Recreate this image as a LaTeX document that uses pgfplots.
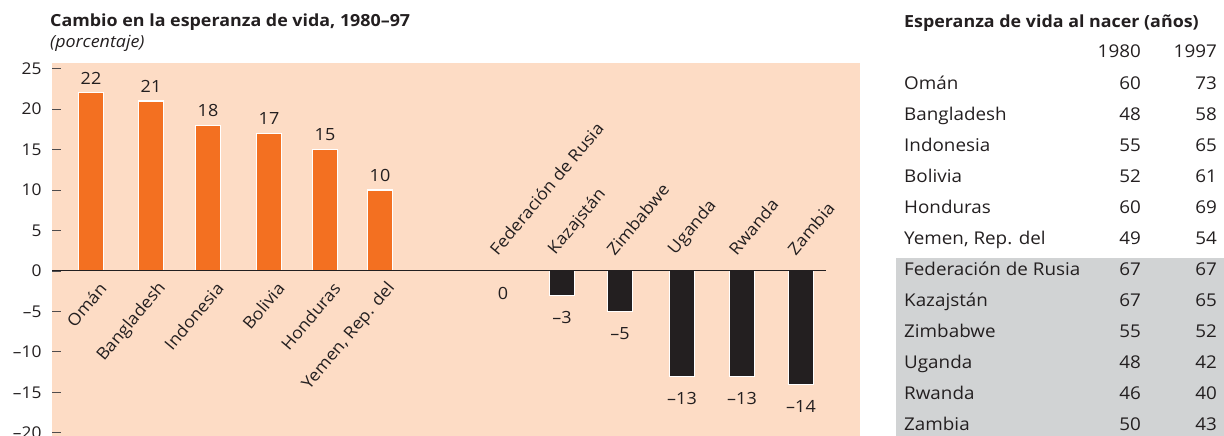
\documentclass[border=0pt]{standalone}
\usepackage{pgfplots}
\usepackage{pgfplotstable}
\pgfplotsset{compat=1.18}
\usepackage{fontspec}
\setmainfont{Open Sans}[FakeStretch=1.07]

\definecolor{panel}{HTML}{FDDCC5}
\definecolor{gainbar}{HTML}{F37021}
\definecolor{ink}{HTML}{231F20}
\definecolor{tabgray}{HTML}{D1D3D4}

% Change in life expectancy 1980-97 (percent), bar position and label
\pgfplotstableread{
x   y   lab
91  22  22
151 21  21
208 18  18
269 17  17
325 15  15
380 10  10
}\gains
\pgfplotstableread{
x   y    lab
503 0    0
562 -3   –3
620 -5   –5
682 -13  –13
742 -13  –13
801 -14  –14
}\losses

\begin{document}
\begin{tikzpicture}
\useasboundingbox (0,0) rectangle (1224pt,436pt);

\begin{axis}[
  at={(52pt,0pt)}, anchor=south west,
  scale only axis, width=808pt, height=373pt,
  xmin=52, xmax=860, ymin=-20.4, ymax=25.7,
  clip=false,
  axis background/.style={fill=panel},
  axis line style={draw=none},
  ybar, bar width=25pt,
  % y axis
  ytick={-20,-15,-10,-5,0,5,10,15,20,25},
  yticklabels={–20,–15,–10,–5,0,5,10,15,20,25},
  ytick pos=left, tick align=inside,
  major tick length=9pt,
  ytick style={draw=ink!80, line width=0.7pt},
  y tick label style={font=\fontsize{16.2}{18}\selectfont, text=ink, xshift=-7pt},
  % x axis: countries that gained
  xtick={91,151,208,269,325,380},
  xticklabels={Omán,Bangladesh,Indonesia,Bolivia,Honduras,{Yemen, Rep. del}},
  xtick style={draw=none},
  x tick label style={font=\fontsize{16.6}{18}\selectfont, text=ink, inner sep=0pt,
    xshift=12pt, yshift=151pt, rotate=50, anchor=east},
  % x axis: countries that lost
  extra x ticks={503,562,620,682,742,801},
  extra x tick labels={Federación de Rusia,Kazajstán,Zimbabwe,Uganda,Rwanda,Zambia},
  extra x tick style={
    xtick style={draw=none},
    every x tick label/.style={font=\fontsize{16.6}{18}\selectfont, text=ink, inner sep=0pt,
      xshift=-10pt, yshift=183.6pt, rotate=50, anchor=west}},
  point meta=explicit symbolic,
]
\addplot[bar shift=0pt, fill=gainbar, draw=white, line width=1.1pt,
  nodes near coords,
  every node near coord/.append style={font=\fontsize{16.8}{18}\selectfont, text=ink,
    inner sep=0pt, anchor=south, yshift=8pt}]
  table[x=x, y=y, meta=lab] {\gains};
\addplot[bar shift=0pt, fill=ink, draw=white, line width=1.1pt,
  nodes near coords,
  every node near coord/.append style={font=\fontsize{16.8}{18}\selectfont, text=ink,
    inner sep=0pt, anchor=north, yshift=-16pt}]
  table[x=x, y=y, meta=lab] {\losses};
\draw[ink, line width=0.9pt] (axis cs:52,0) -- (axis cs:826,0);
\end{axis}

% chart titles
\node[anchor=base west, inner sep=0pt, text=ink, font=\bfseries\fontsize{16.7}{18}\selectfont]
  at (50pt,409pt) {Cambio en la esperanza de vida, 1980–97};
\node[anchor=base west, inner sep=0pt, text=ink, font=\itshape\fontsize{16.7}{18}\selectfont]
  at (50pt,388pt) {(porcentaje)};

% life expectancy table
\fill[tabgray] (896pt,0pt) rectangle (1224pt,178pt);
\node[anchor=base west, inner sep=0pt, text=ink, font=\bfseries\fontsize{16.7}{18}\selectfont]
  at (904pt,408pt) {Esperanza de vida al nacer (años)};
\begin{scope}[every node/.style={inner sep=0pt, text=ink, font=\fontsize{17.6}{19}\selectfont}]
\node[anchor=base east] at (1141pt,378pt) {1980};
\node[anchor=base east] at (1217pt,378pt) {1997};
\foreach \name/\a/\b [count=\i from 0] in {
  Omán/60/73, Bangladesh/48/58, Indonesia/55/65, Bolivia/52/61,
  Honduras/60/69, {Yemen, Rep. del}/49/54, Federación de Rusia/67/67,
  Kazajstán/67/65, Zimbabwe/55/52, Uganda/48/42, Rwanda/46/40, Zambia/50/43} {
  \pgfmathsetmacro\yy{346-31*\i}
  \node[anchor=base west] at (904pt,\yy pt) {\name};
  \node[anchor=base east] at (1141pt,\yy pt) {\a};
  \node[anchor=base east] at (1217pt,\yy pt) {\b};
}
\end{scope}
\end{tikzpicture}
\end{document}
